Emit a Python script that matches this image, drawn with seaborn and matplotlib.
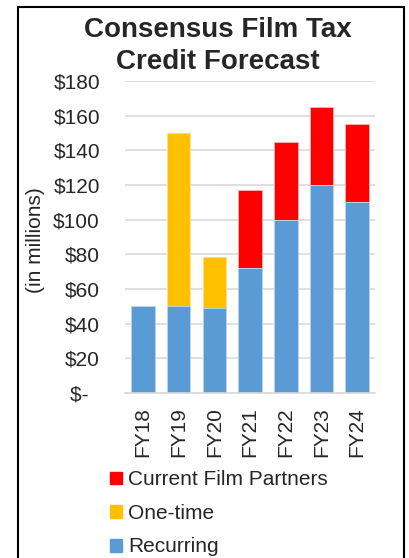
import numpy as np
import pandas as pd
import matplotlib
matplotlib.use('Agg')
import matplotlib.pyplot as plt
from matplotlib.patches import Rectangle, Patch
from matplotlib.ticker import FuncFormatter
import seaborn as sns

years = ['FY18', 'FY19', 'FY20', 'FY21', 'FY22', 'FY23', 'FY24']
recurring = [50, 50, 49, 72, 100, 120, 110]
one_time = [0, 100, 29.5, 0, 0, 0, 0]
film_partners = [0, 0, 0, 45, 45, 45, 45]

df = pd.DataFrame({'year': years, 'recurring': recurring,
                   'one_time': one_time, 'partners': film_partners})
df['lvl2'] = df['recurring'] + df['one_time']
df['lvl3'] = df['lvl2'] + df['partners']

BLUE = '#5B9BD5'
ORANGE = '#FFC000'
RED = '#FF0000'

sns.set_style('white')
plt.rcParams['font.family'] = ['Liberation Sans', 'DejaVu Sans']

fig = plt.figure(figsize=(4.09, 5.58), dpi=100)
ax = fig.add_axes([125/409, 1 - 393/558, 250/409, 312/558])

# stacked bars drawn tallest first
sns.barplot(data=df, x='year', y='lvl3', color=RED, width=0.66,
            edgecolor='#FFB3B3', linewidth=0.6, ax=ax, saturation=1)
sns.barplot(data=df, x='year', y='lvl2', color=ORANGE, width=0.66,
            edgecolor='#FFE699', linewidth=0.6, ax=ax, saturation=1)
sns.barplot(data=df, x='year', y='recurring', color=BLUE, width=0.66,
            edgecolor='#BDD7EE', linewidth=0.6, ax=ax, saturation=1)

ax.set_ylim(0, 180)
ax.set_xlim(-0.5, 6.5)
ax.set_yticks(np.arange(0, 181, 20))
ax.yaxis.set_major_formatter(FuncFormatter(
    lambda v, p: '$-  ' if v == 0 else f'${v:.0f}'))
ax.grid(axis='y', color='#D9D9D9', linewidth=1.2)
ax.set_axisbelow(True)
for s in ['top', 'right', 'left']:
    ax.spines[s].set_visible(False)
ax.spines['bottom'].set_color('#D9D9D9')
ax.spines['bottom'].set_linewidth(1.2)

ax.tick_params(axis='y', length=0, pad=18, labelsize=15)
ax.tick_params(axis='x', length=0, pad=10, labelsize=15, rotation=90)
ax.set_xlabel('')
ax.set_ylabel('(in millions)', fontsize=15)
ax.yaxis.set_label_coords(-0.32, 0.49)

fig.text(218/409, 1 - 46/558, 'Consensus Film Tax\nCredit Forecast',
         ha='center', va='center', fontsize=20, fontweight='bold',
         linespacing=1.32)

handles = [Patch(color=RED), Patch(color=ORANGE), Patch(color=BLUE)]
fig.legend(handles, ['Current Film Partners', 'One-time', 'Recurring'],
           loc='upper left', bbox_to_anchor=(102/409, 1 - 462/558),
           frameon=False, fontsize=15, handlelength=0.57, handleheight=0.57,
           handletextpad=0.3, labelspacing=0.7, borderaxespad=0)

fig.patches.append(Rectangle((18/409, -0.05), (404 - 18)/409, 1 - 7/558 + 0.05,
                             transform=fig.transFigure, fill=False,
                             edgecolor='black', linewidth=1.5, clip_on=False))

fig.savefig('out.png', dpi=100)
